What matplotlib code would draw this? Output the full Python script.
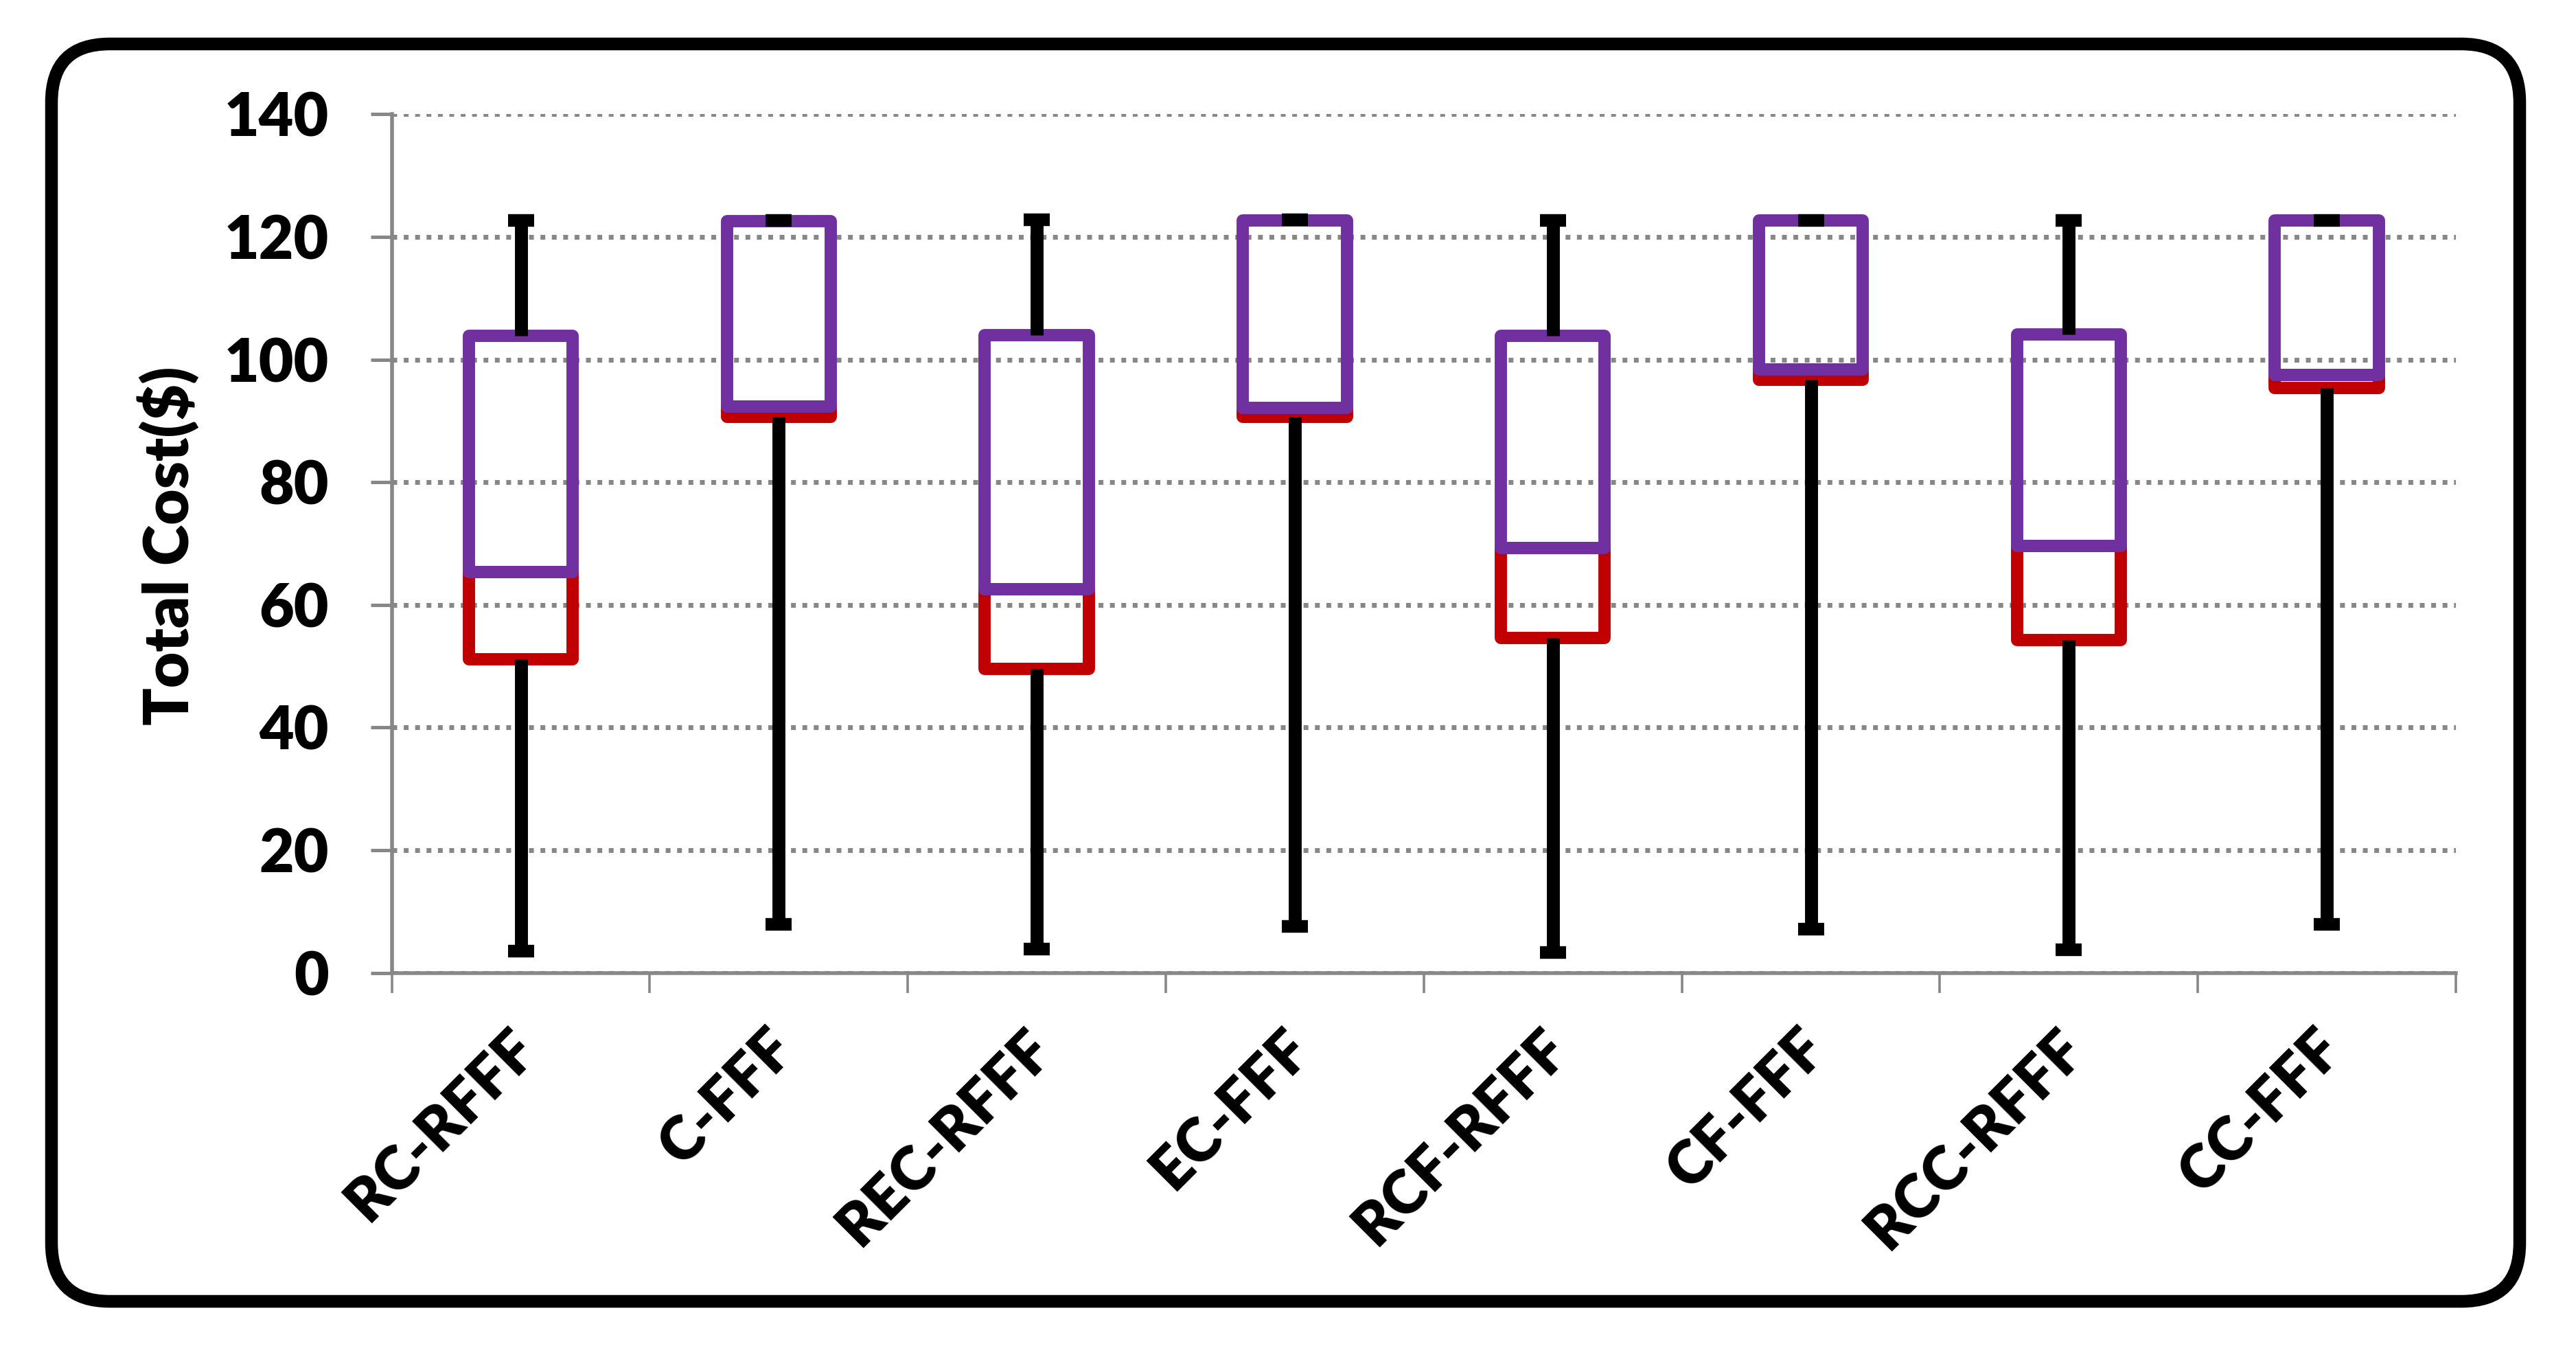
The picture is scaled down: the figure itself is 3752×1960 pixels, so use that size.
import numpy as np
import matplotlib
matplotlib.use("Agg")
import matplotlib.pyplot as plt
import matplotlib.transforms as mtransforms
from matplotlib.patches import FancyBboxPatch

# ----- Data ----- #
categories = ["RC-RFFF", "C-FFF", "REC-RFFF", "EC-FFF", "RCF-RFFF", "CF-FFF", "RCC-RFFF", "CC-FFF"]
min_cost = [3.5, 7.9, 3.9, 7.6, 3.3, 7.1, 3.8, 7.9]
q1_cost = [51.1, 90.6, 49.6, 90.7, 54.6, 96.7, 54.3, 95.4]
median_cost = [65.3, 92.3, 62.5, 92.1, 69.3, 98.4, 69.6, 97.5]
q3_cost = [103.9, 122.6, 104.0, 122.7, 103.9, 122.7, 104.1, 122.7]
max_cost = [122.7, 122.7, 122.8, 122.8, 122.7, 122.7, 122.7, 122.7]
y_ticks = [0, 20, 40, 60, 80, 100, 120, 140]

# ----- Style ----- #
W, H = 3752, 1960
PX = 0.72  # points per pixel at dpi 100
RED = "#C00000"
PURPLE = "#7030A0"
GRAY = "#878787"
FONT_SIZE = 63
WEIGHT = "heavy"

plt.rcParams["font.family"] = ["Lato", "DejaVu Sans"]
plt.rcParams["font.weight"] = WEIGHT

fig = plt.figure(figsize=(W / 100, H / 100), dpi=100)

# Rounded outer frame, drawn on a full-figure pixel axes
bg = fig.add_axes([0, 0, 1, 1])
bg.set_xlim(0, W)
bg.set_ylim(H, 0)
bg.axis("off")
bg.add_patch(FancyBboxPatch((75, 64), 3670 - 75, 1895 - 64, boxstyle="round,pad=0,rounding_size=85",
                            fill=False, edgecolor="black", linewidth=18.5 * PX))

# Main plot area
ax = fig.add_axes([570.7 / W, 1 - 1416.6 / H, (3577 - 570.7) / W, (1416.6 - 166.3) / H])
ax.set_facecolor("none")
x = np.arange(len(categories))

# Lower box (Q1 -> median) in red, upper box (median -> Q3) in purple
red_h = np.array(median_cost) - np.array(q1_cost)
purple_h = np.array(q3_cost) - np.array(median_cost)
ax.bar(x, red_h, bottom=q1_cost, width=0.403, fill=False, edgecolor=RED,
       linewidth=17.9 * PX, joinstyle="round", zorder=3)
ax.bar(x, purple_h, bottom=median_cost, width=0.403, fill=False, edgecolor=PURPLE,
       linewidth=17.9 * PX, joinstyle="round", zorder=4)

# Whiskers and caps
ax.vlines(x, q3_cost, max_cost, colors="black", linewidth=18.9 * PX, capstyle="butt", zorder=5)
ax.vlines(x, min_cost, q1_cost, colors="black", linewidth=18.9 * PX, capstyle="butt", zorder=5)
cap_half = 0.0505
ax.hlines(max_cost, x - cap_half, x + cap_half, colors="black", linewidth=18.4 * PX, capstyle="butt", zorder=6)
ax.hlines(min_cost, x - cap_half, x + cap_half, colors="black", linewidth=18.4 * PX, capstyle="butt", zorder=6)

# Axes, grid, ticks
ax.set_ylim(0, 140)
ax.set_xlim(-0.5, len(categories) - 0.5)
ax.set_yticks(y_ticks)
ax.set_yticklabels([str(t) for t in y_ticks])
ax.yaxis.grid(True, color=GRAY, linewidth=7 * PX, linestyle=(0, (1, 1.37)))
ax.set_axisbelow(True)

for side in ["top", "right"]:
    ax.spines[side].set_visible(False)
for side in ["left", "bottom"]:
    ax.spines[side].set_color(GRAY)
    ax.spines[side].set_linewidth(5.5 * PX)

ax.set_xticks(np.arange(-0.5, len(categories), 1.0))
ax.set_xticklabels([])
ax.set_xticks(x, minor=True)
ax.set_xticklabels(categories, minor=True, rotation=45, ha="right")

ax.tick_params(axis="y", length=31 * PX, width=5 * PX, color=GRAY, pad=44, labelsize=FONT_SIZE)
ax.tick_params(axis="x", which="major", length=29 * PX, width=3.6 * PX, color=GRAY)
ax.tick_params(axis="x", which="minor", length=0, pad=50, labelsize=FONT_SIZE)

# Nudge the rotated category labels to the right, like the reference
shift = mtransforms.ScaledTranslation(38 / 100, 0, fig.dpi_scale_trans)
for lbl in ax.get_xticklabels(minor=True):
    lbl.set_transform(lbl.get_transform() + shift)

fig.text(245 / W, 1 - 795 / H, "Total Cost($)", rotation=90, ha="center", va="center",
         fontsize=FONT_SIZE + 2, fontweight=WEIGHT)

fig.savefig("out.png", dpi=100)
